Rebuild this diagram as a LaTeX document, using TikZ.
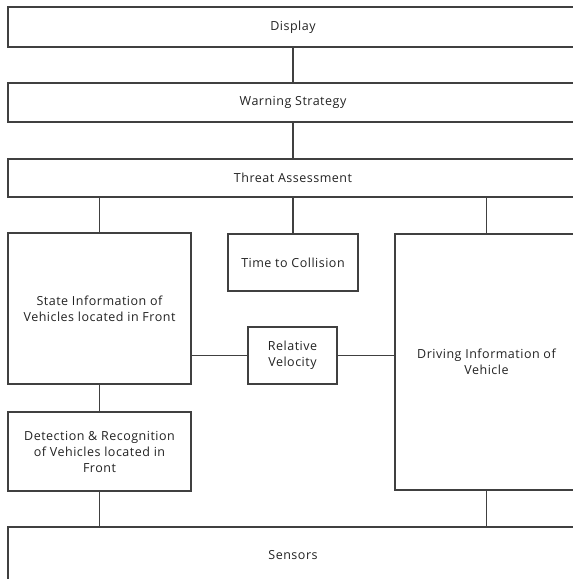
\documentclass[tikz,border=0pt]{standalone}
\usepackage{fontspec}
\setmainfont[LetterSpace=4]{Open Sans}
\begin{document}
\begin{tikzpicture}[x=1pt,y=-1pt,
  box/.style={draw=linecol,line width=1.2pt,rectangle,inner sep=0pt,align=center,
    font=\fontsize{12.5}{16}\selectfont,text=txtcol},
  conn/.style={draw=linecol,line width=1.2pt}]
\definecolor{linecol}{HTML}{404040}
\definecolor{txtcol}{HTML}{222222}
\useasboundingbox (0,0) rectangle (573,579);
\clip (0,0) rectangle (573,579);
\node[box,minimum width=570pt,minimum height=40pt] (disp) at (293,27) {Display};
\node[box,minimum width=570pt,minimum height=39pt] (warn) at (293,102.5) {Warning Strategy};
\node[box,minimum width=570pt,minimum height=38pt] (threat) at (293,178) {Threat Assessment};
\node[box,minimum width=183pt,minimum height=151pt] (state) at (99.5,308.5) {State Information of\\Vehicles located in Front};
\node[box,minimum width=130pt,minimum height=57pt] (ttc) at (293,262.5) {Time to Collision};
\node[box,minimum width=89pt,minimum height=57pt] (rv) at (292.5,355.5) {Relative\\Velocity};
\node[box,minimum width=183pt,minimum height=256pt] (drive) at (486.5,362) {Driving Information of\\Vehicle};
\node[box,minimum width=183pt,minimum height=79pt] (det) at (99.5,451.5) {Detection \& Recognition\\of Vehicles located in\\Front};
\node[box,minimum width=570pt,minimum height=56pt] (sens) at (293,555) {Sensors};
\draw[conn] (disp.south) -- (warn.north);
\draw[conn] (warn.south) -- (threat.north);
\draw[conn] (state.north) -- (state.north |- threat.south);
\draw[conn] (ttc.north) -- (ttc.north |- threat.south);
\draw[conn] (drive.north) -- (drive.north |- threat.south);
\draw[conn] (ttc.south) -- (ttc.south -| rv.north);
\draw[conn] (rv.west) -- (rv.west -| state.east);
\draw[conn] (rv.east) -- (rv.east -| drive.west);
\draw[conn] (state.south) -- (det.north);
\draw[conn] (det.south) -- (det.south |- sens.north);
\draw[conn] (drive.south) -- (drive.south |- sens.north);
\end{tikzpicture}
\end{document}
